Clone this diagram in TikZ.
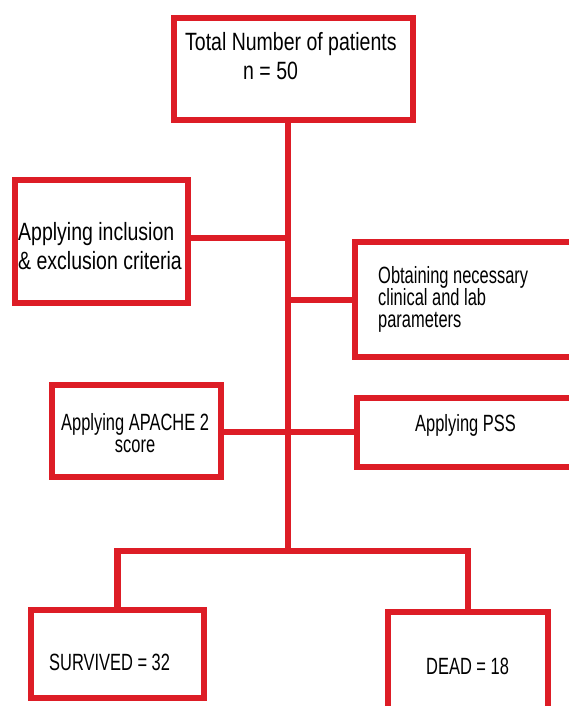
\documentclass[tikz,border=0pt]{standalone}
\usepackage{fontspec}
\setmainfont{Liberation Sans}[FakeStretch=0.78]
\newfontfamily\narrowfont{Liberation Sans}[FakeStretch=0.7]
\usetikzlibrary{positioning}
\definecolor{boxred}{RGB}{221,29,38}

\begin{document}
\begin{tikzpicture}[x=1pt,y=-1pt,
    box/.style={draw=boxred,line width=6.5pt,rectangle,inner sep=0pt},
    link/.style={draw=boxred,line width=6.5pt,line join=miter},
    bigtxt/.style={font=\fontsize{25}{29}\selectfont,align=left,inner sep=0pt,anchor=base west},
    smalltxt/.style={font=\narrowfont\fontsize{23.5}{22}\selectfont,align=left,inner sep=0pt,anchor=base west}]
    \useasboundingbox (0,0) rectangle (569,706);
    \clip (0,0) rectangle (569,706);

    % the boxes
    \node[box,minimum width=239pt,minimum height=102pt] (total) at (293.5,69) {};
    \node[box,minimum width=173pt,minimum height=123pt] (incl) at (101.5,241.5) {};
    \node[box,minimum width=245pt,minimum height=115pt] (obtain) at (477.5,299.5) {};
    \node[box,minimum width=169pt,minimum height=92pt] (apache) at (136.5,431) {};
    \node[box,minimum width=243pt,minimum height=69pt] (pss) at (478.5,432.5) {};
    \node[box,minimum width=173pt,minimum height=88pt] (surv) at (117.5,654) {};
    \node[box,minimum width=160pt,minimum height=118pt] (dead) at (468,671) {};

    % the texts (base west is the last line)
    \node[bigtxt] (ttotal) at (185,80) {Total Number of patients\\\hspace*{58pt}n = 50};
    \node[bigtxt] (tincl) at (18,269) {Applying inclusion\\\& exclusion criteria};
    \node[smalltxt] (tobtain) at (378,327) {Obtaining necessary\\clinical and lab\\parameters};
    \node[smalltxt,align=center] (tapache) at (61,452) {Applying APACHE 2\\score};
    \node[smalltxt] (tpss) at (415,431) {Applying PSS};
    \node[smalltxt] (tsurv) at (49,670) {SURVIVED = 32};
    \node[smalltxt] (tdead) at (426,674) {DEAD = 18};

    % the trunk and its branches
    \coordinate (jbot) at (288,551);
    \coordinate (jincl) at (288,238);
    \coordinate (jobt) at (288,300);
    \coordinate (jmid) at (288,432);

    \draw[link] (total.south -| jbot) -- (jbot);
    \draw[link] (jincl) -- (incl.east |- jincl);
    \draw[link] (jobt) -- (obtain.west |- jobt);
    \draw[link] (apache.east |- jmid) -- (pss.west |- jmid);
    \draw[link] (surv.north) |- (jbot) -| (dead.north);
\end{tikzpicture}
\end{document}
